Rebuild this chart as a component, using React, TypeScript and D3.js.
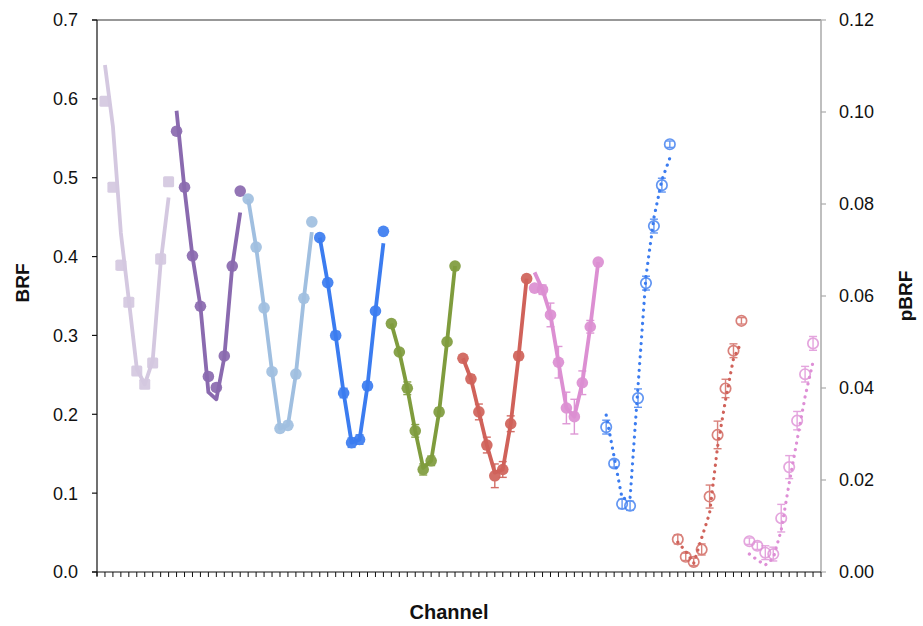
import React from "react";
import * as d3 from "d3";

const W = 923;
const H = 626;

// Left-axis (BRF) groups: observed points, errors and simulated line
const leftColors = ["#d4c8e0", "#8a6aaf", "#a0bfe0", "#3b7cf0", "#7f9c3d", "#d0625a", "#dc8fd2"];
const leftPoints = [
  [0.597, 0.488, 0.389, 0.342, 0.255, 0.238, 0.265, 0.397, 0.495],
  [0.559, 0.488, 0.401, 0.337, 0.248, 0.234, 0.274, 0.388, 0.483],
  [0.473, 0.412, 0.335, 0.254, 0.182, 0.186, 0.251, 0.347, 0.444],
  [0.424, 0.367, 0.300, 0.227, 0.164, 0.168, 0.236, 0.331, 0.432],
  [0.315, 0.279, 0.233, 0.179, 0.130, 0.141, 0.203, 0.292, 0.388],
  [0.271, 0.245, 0.203, 0.161, 0.122, 0.130, 0.188, 0.274, 0.372],
  [0.360, 0.358, 0.326, 0.266, 0.208, 0.197, 0.240, 0.311, 0.393],
];
const leftErrors = [
  [0.004, 0.003, 0.006, 0.004, 0.003, 0.004, 0.005, 0.006, 0.003],
  [0.003, 0.003, 0.003, 0.003, 0.004, 0.004, 0.003, 0.003, 0.003],
  [0.003, 0.003, 0.004, 0.004, 0.005, 0.005, 0.004, 0.004, 0.003],
  [0.003, 0.004, 0.005, 0.006, 0.006, 0.006, 0.005, 0.004, 0.003],
  [0.003, 0.004, 0.008, 0.008, 0.007, 0.006, 0.005, 0.004, 0.003],
  [0.003, 0.005, 0.010, 0.010, 0.015, 0.010, 0.010, 0.005, 0.003],
  [0.004, 0.006, 0.015, 0.020, 0.020, 0.022, 0.015, 0.008, 0.003],
];
const leftLines = [
  [0.643, 0.565, 0.430, 0.345, 0.258, 0.238, 0.268, 0.392, 0.475],
  [0.585, 0.485, 0.400, 0.337, 0.228, 0.219, 0.272, 0.388, 0.456],
  [0.473, 0.412, 0.335, 0.254, 0.182, 0.186, 0.251, 0.347, 0.431],
  [0.424, 0.367, 0.300, 0.227, 0.164, 0.168, 0.236, 0.331, 0.417],
  [0.315, 0.279, 0.233, 0.179, 0.132, 0.141, 0.203, 0.292, 0.388],
  [0.271, 0.245, 0.203, 0.161, 0.126, 0.130, 0.188, 0.274, 0.372],
  [0.380, 0.358, 0.326, 0.266, 0.208, 0.197, 0.240, 0.311, 0.393],
];

// Right-axis (pBRF) groups
const rightColors = ["#3b7cf0", "#d0625a", "#de8fd6"];
const rightPoints = [
  [0.0315, 0.0236, 0.0148, 0.0144, 0.0378, 0.0628, 0.0752, 0.0841, 0.0930],
  [0.0071, 0.0033, 0.0022, 0.0049, 0.0164, 0.0298, 0.0399, 0.0481, 0.0546],
  [0.0067, 0.0057, 0.0042, 0.0039, 0.0117, 0.0228, 0.0329, 0.0430, 0.0497],
];
const rightErrors = [
  [0.0015, 0.0008, 0.0010, 0.0010, 0.0020, 0.0015, 0.0015, 0.0015, 0.0007],
  [0.0010, 0.0008, 0.0008, 0.0012, 0.0025, 0.0030, 0.0020, 0.0015, 0.0007],
  [0.0007, 0.0008, 0.0015, 0.0015, 0.0030, 0.0025, 0.0020, 0.0017, 0.0015],
];
const rightLines = [
  [0.0341, 0.0250, 0.0160, 0.0160, 0.0403, 0.0642, 0.0770, 0.0852, 0.0900],
  [0.0065, 0.0045, 0.0019, 0.0074, 0.0128, 0.0272, 0.0374, 0.0464, 0.0500],
  [0.0039, 0.0026, 0.0015, 0.0030, 0.0091, 0.0193, 0.0287, 0.0381, 0.0457],
];

const leftTicks = [0, 0.1, 0.2, 0.3, 0.4, 0.5, 0.6, 0.7];
const rightTicks = [0, 0.02, 0.04, 0.06, 0.08, 0.1, 0.12];
const channelCount = 91;

const FONT = "'Liberation Sans', Arial, Helvetica, sans-serif";

export default function App() {
  const left = 97, right = 821, top = 20, bottom = 572;
  const x = d3.scaleLinear().domain([0, channelCount]).range([left, right]);
  const yL = d3.scaleLinear().domain([0, 0.7]).range([bottom, top]);
  const yR = d3.scaleLinear().domain([0, 0.12]).range([bottom, top]);
  const chanTicks = d3.range(0, channelCount + 1);

  const lineGen = (ys: d3.ScaleLinear<number, number>, start: number) =>
    d3
      .line<number>()
      .x((_, i) => x(start + i))
      .y((v) => ys(v));

  return (
    <svg width={W} height={H} style={{ position: "absolute", left: 0, top: 0, background: "#fff" }}>
      {/* frame */}
      <line x1={92} x2={right} y1={top} y2={top} stroke="#333" strokeWidth={1.2} />
      <line x1={right} x2={right} y1={top} y2={bottom} stroke="#aaa" strokeWidth={1.5} />
      {rightTicks.map((t) => (
        <g key={"rt" + t}>
          <line x1={right} x2={right + 5} y1={yR(t)} y2={yR(t)} stroke="#aaa" strokeWidth={1.2} />
          <text x={839} y={yR(t)} dy="0.36em" fontFamily={FONT} fontSize={18} fill="#111">
            {t.toFixed(2)}
          </text>
        </g>
      ))}
      <line x1={left} x2={left} y1={top} y2={bottom + 4} stroke="#111" strokeWidth={1.2} />
      {leftTicks.map((t) => (
        <g key={"lt" + t}>
          <line x1={92} x2={left} y1={yL(t)} y2={yL(t)} stroke="#111" strokeWidth={1.2} />
          <text x={78} y={yL(t)} dy="0.36em" textAnchor="end" fontFamily={FONT} fontSize={18} fill="#111">
            {t.toFixed(1)}
          </text>
        </g>
      ))}
      <line x1={92} x2={right} y1={bottom} y2={bottom} stroke="#111" strokeWidth={1.2} />
      {chanTicks.map((c) => (
        <line key={"ct" + c} x1={x(c)} x2={x(c)} y1={bottom} y2={bottom + 5} stroke="#111" strokeWidth={1} />
      ))}

      {/* axis titles */}
      <text x={449} y={619} textAnchor="middle" fontFamily={FONT} fontWeight="bold" fontSize={20} fill="#111">
        Channel
      </text>
      <text
        transform={`translate(29,283) rotate(-90)`}
        textAnchor="middle"
        fontFamily={FONT}
        fontWeight="bold"
        fontSize={19}
        fill="#111"
      >
        BRF
      </text>
      <text
        transform={`translate(912,296) rotate(-90)`}
        textAnchor="middle"
        fontFamily={FONT}
        fontWeight="bold"
        fontSize={19}
        fill="#111"
      >
        pBRF
      </text>

      {/* left-axis groups */}
      {leftPoints.map((pts, g) => {
        const start = g * 9 + 1;
        const col = leftColors[g];
        return (
          <g key={"lg" + g}>
            <path d={lineGen(yL, start)(leftLines[g]) || ""} fill="none" stroke={col} strokeWidth={3.8} strokeLinejoin="round" />
            {pts.map((v, i) => {
              const cx = x(start + i);
              const e = leftErrors[g][i];
              return (
                <g key={i} opacity={0.92}>
                  <line x1={cx} x2={cx} y1={yL(v - e)} y2={yL(v + e)} stroke={col} strokeWidth={1.4} />
                  <line x1={cx - 4} x2={cx + 4} y1={yL(v - e)} y2={yL(v - e)} stroke={col} strokeWidth={1.4} />
                  <line x1={cx - 4} x2={cx + 4} y1={yL(v + e)} y2={yL(v + e)} stroke={col} strokeWidth={1.4} />
                  {g === 0 ? (
                    <rect x={cx - 5.5} y={yL(v) - 5.5} width={11} height={11} rx={1.5} fill={col} />
                  ) : (
                    <circle cx={cx} cy={yL(v)} r={5.8} fill={col} />
                  )}
                </g>
              );
            })}
          </g>
        );
      })}

      {/* right-axis groups */}
      {rightPoints.map((pts, g) => {
        const start = 63 + g * 9 + 1;
        const col = rightColors[g];
        return (
          <g key={"rg" + g}>
            <path
              d={lineGen(yR, start)(rightLines[g]) || ""}
              fill="none"
              stroke={col}
              strokeWidth={3.2}
              strokeDasharray="0.1 6.6"
              strokeLinecap="round"
            />
            {pts.map((v, i) => {
              const cx = x(start + i);
              const e = rightErrors[g][i];
              return (
                <g key={i} opacity={0.8}>
                  <line x1={cx} x2={cx} y1={yR(v - e)} y2={yR(v + e)} stroke={col} strokeWidth={1.4} />
                  <line x1={cx - 4} x2={cx + 4} y1={yR(v - e)} y2={yR(v - e)} stroke={col} strokeWidth={1.4} />
                  <line x1={cx - 4} x2={cx + 4} y1={yR(v + e)} y2={yR(v + e)} stroke={col} strokeWidth={1.4} />
                  <circle cx={cx} cy={yR(v)} r={5.2} fill="none" stroke={col} strokeWidth={1.7} />
                </g>
              );
            })}
          </g>
        );
      })}
    </svg>
  );
}
